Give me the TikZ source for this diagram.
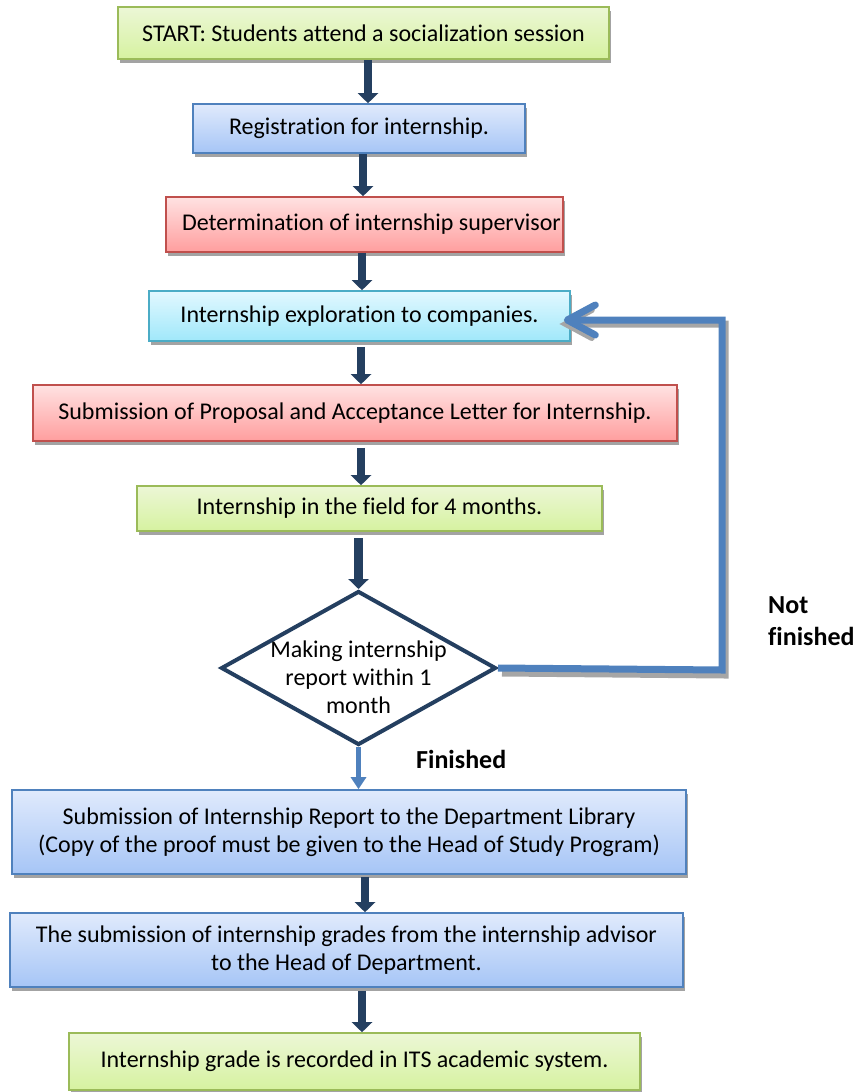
\documentclass[tikz,border=0pt]{standalone}
\usepackage{fontspec}
\setmainfont{Carlito}[Ligatures=CommonOff]
\usetikzlibrary{arrows.meta,shapes.geometric,shadows,calc}
\definecolor{navy}{HTML}{243F60}
\definecolor{steel}{HTML}{4F81BD}
\definecolor{gbord}{HTML}{9BBB59}
\definecolor{rbord}{HTML}{C0504D}
\definecolor{cbord}{HTML}{4BACC6}
\definecolor{gtop}{RGB}{236,247,214}
\definecolor{gbot}{RGB}{214,242,160}
\definecolor{btop}{RGB}{224,234,252}
\definecolor{bbot}{RGB}{166,197,246}
\definecolor{rtop}{RGB}{255,226,226}
\definecolor{rbot}{RGB}{255,158,158}
\definecolor{ctop}{RGB}{226,248,255}
\definecolor{cbot}{RGB}{160,232,250}
\tikzset{
  box/.style={draw, line width=1.6pt, minimum width=#1, inner sep=0pt, align=center,
    font=\fontsize{24}{28.5}\selectfont,
    drop shadow={shadow xshift=2pt, shadow yshift=-3.5pt, fill=black!45, opacity=0.8}},
  greenbox/.style={box=#1, draw=gbord, top color=gtop, bottom color=gbot},
  bluebox/.style={box=#1, draw=steel, top color=btop, bottom color=bbot},
  redbox/.style={box=#1, draw=rbord, top color=rtop, bottom color=rbot},
  cyanbox/.style={box=#1, draw=cbord, top color=ctop, bottom color=cbot},
  navyarr/.style={navy, line width=8.5pt, -{Triangle[width=20pt,length=10pt]}},
  lightarr/.style={steel, line width=5pt, -{Triangle[width=15pt,length=12pt]}},
  loopline/.style={steel, line width=7pt},
  lbl/.style={font=\fontsize{26}{32}\selectfont\bfseries, align=left, inner sep=0pt},
}
\begin{document}
\begin{tikzpicture}[x=1pt,y=-1pt]
\useasboundingbox (0,0) rectangle (859,1092);
\node[greenbox=491pt, minimum height=52pt] (start) at (363.5,33) {START: Students attend a socialization session};
\node[bluebox=332pt, minimum height=49pt] (reg) at (359,128.5) {Registration for internship.};
\node[redbox=397pt, minimum height=55pt] (det) at (364.5,224.5) {\hspace*{14pt}Determination of internship supervisor};
\node[cyanbox=421pt, minimum height=50pt] (expl) at (359.5,316) {Internship exploration to companies.};
\node[redbox=644pt, minimum height=56pt] (prop) at (355,413) {Submission of Proposal and Acceptance Letter for Internship.};
\node[greenbox=465pt, minimum height=45pt] (field) at (369.5,508.5) {Internship in the field for 4 months.};
\node[diamond, draw=navy, line width=4pt, fill=white, minimum width=275pt, minimum height=154pt, inner sep=0pt] (dec) at (358.5,668) {};
\node[align=center, inner sep=0pt, font=\fontsize{24}{28}\selectfont] (dectext) at (358.5,677) {Making internship\\report within 1\\month};
\node[bluebox=674pt, minimum height=84pt] (report) at (349,832) {Submission of Internship Report to the Department Library\\(Copy of the proof must be given to the Head of Study Program)};
\node[bluebox=673pt, minimum height=74pt] (grades) at (346.5,950) {The submission of internship grades from the internship advisor\\to the Head of Department.};
\node[greenbox=571pt, minimum height=57pt] (final) at (354.5,1061.5) {Internship grade is recorded in ITS academic system.};
\node[lbl, anchor=north west] (notfin) at (768,596) {Not\\finished};
\node[lbl, anchor=north west] (fin) at (416,750) {Finished};
% connector start points
\coordinate (a1) at ($(start.south)+(4.5,0)$);
\coordinate (a2) at ($(reg.south)+(4,0)$);
\coordinate (a3) at ($(det.south)+(-2.5,0)$);
\coordinate (a4) at ($(expl.south)+(1.5,5)$);
\coordinate (a5) at ($(prop.south)+(6,6)$);
\coordinate (a6) at ($(field.south)+(-11,6)$);
\coordinate (a8) at ($(report.south)+(16,2)$);
\coordinate (a9) at ($(grades.south)+(15.5,3)$);
% connectors
\draw[navyarr] (a1) -- (a1 |- reg.north);
\draw[navyarr] (a2) -- (a2 |- det.north);
\draw[navyarr] (a3) -- (a3 |- expl.north);
\draw[navyarr] (a4) -- (a4 |- prop.north);
\draw[navyarr] (a5) -- (a5 |- field.north);
\draw[navyarr] (a6) -- (a6 |- dec.north);
\draw[lightarr] (dec.south) -- (dec.south |- report.north);
\draw[navyarr] (a8) -- (a8 |- grades.north);
\draw[navyarr] (a9) -- (a9 |- final.north);
% feedback loop
\coordinate (corner) at ($(dec.east)+(224,2)$);
\coordinate (target) at ($(expl.east)+(-7,4)$);
\draw[black!35, line width=7pt] ($(dec.east)+(4,5)$) -- ($(corner)+(3,5)$) -- ($(corner |- target)+(3,4)$) -- ($(target)+(10,4)$);
\draw[black!35, line width=6pt, line cap=round] ($(target)+(28,-10)$) -- ($(target)+(2,4)$) -- ($(target)+(28,18)$);
\draw[loopline, -{Straight Barb[length=28pt,width=30pt,line width=7pt,round]}] (dec.east) -- (corner) |- (target);
\end{tikzpicture}
\end{document}
